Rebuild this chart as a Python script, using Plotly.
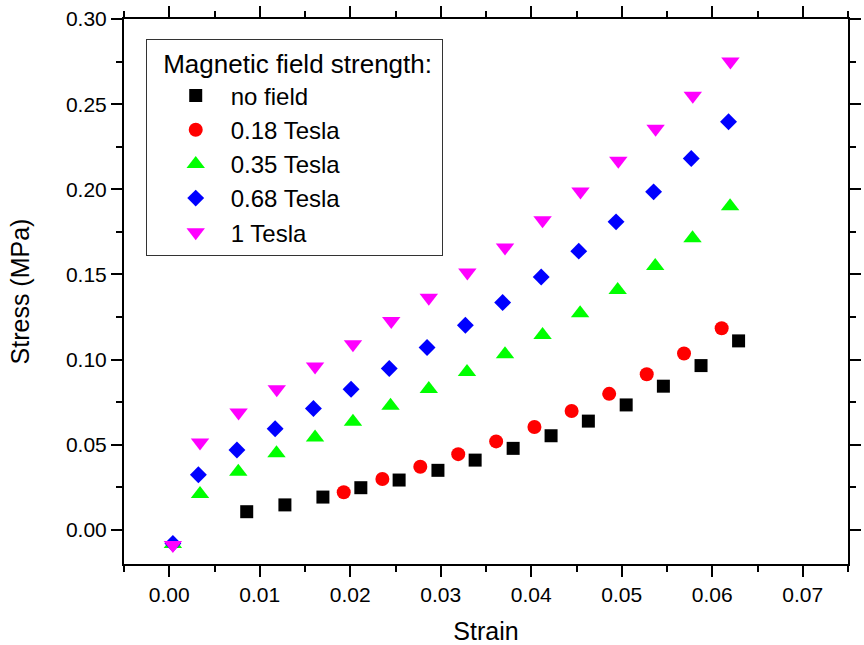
import plotly.graph_objects as go

# ---- data ----
series_names = ["no field", "0.18 Tesla", "0.35 Tesla", "0.68 Tesla", "1 Tesla"]

strain_none = [0.00856, 0.01278, 0.01698, 0.02117, 0.02540, 0.02969, 0.03380,
               0.03800, 0.04219, 0.04631, 0.05049, 0.05460, 0.05876, 0.06291]
stress_none = [0.0107, 0.0147, 0.0193, 0.0248, 0.0293, 0.0350, 0.0410,
               0.0479, 0.0553, 0.0639, 0.0734, 0.0844, 0.0965, 0.1110]

strain_018 = [0.01928, 0.02355, 0.02774, 0.03193, 0.03612, 0.04035, 0.04446,
              0.04861, 0.05276, 0.05688, 0.06104]
stress_018 = [0.0221, 0.0299, 0.0371, 0.0445, 0.0520, 0.0604, 0.0698,
              0.0799, 0.0914, 0.1036, 0.1184]

strain_035 = [0.0004, 0.00340, 0.00763, 0.01185, 0.01611, 0.02030, 0.02445, 0.02868,
              0.03290, 0.03710, 0.04125, 0.04540, 0.04955, 0.05370, 0.05782, 0.06197]
stress_035 = [-0.0082, 0.0211, 0.0342, 0.0451, 0.0543, 0.0635, 0.0729, 0.0827,
              0.0928, 0.1032, 0.1145, 0.1272, 0.1409, 0.1550, 0.1712, 0.1901]

strain_068 = [0.0004, 0.00322, 0.00748, 0.01170, 0.01593, 0.02009, 0.02431, 0.02849,
              0.03272, 0.03684, 0.04110, 0.04525, 0.04937, 0.05352, 0.05768, 0.06180]
stress_068 = [-0.0080, 0.0324, 0.0469, 0.0594, 0.0713, 0.0826, 0.0948, 0.1071,
              0.1202, 0.1335, 0.1485, 0.1637, 0.1809, 0.1985, 0.2181, 0.2397]

strain_1t = [0.0004, 0.00340, 0.00766, 0.01188, 0.01611, 0.02030, 0.02453, 0.02868,
             0.03294, 0.03710, 0.04125, 0.04544, 0.04962, 0.05374, 0.05785, 0.06201]
stress_1t = [-0.0088, 0.0514, 0.0690, 0.0826, 0.0960, 0.1090, 0.1227, 0.1364,
             0.1511, 0.1658, 0.1819, 0.1987, 0.2167, 0.2355, 0.2550, 0.2751]

x_ticks = [0.00, 0.01, 0.02, 0.03, 0.04, 0.05, 0.06, 0.07]
y_ticks = [0.00, 0.05, 0.10, 0.15, 0.20, 0.25, 0.30]

# ---- styles ----
FONT = "Liberation Sans, Arial, sans-serif"
styles = [
    dict(symbol="square", color="#000000", size=13),
    dict(symbol="circle", color="#ff0000", size=14),
    dict(symbol="triangle-up", color="#00ff00", size=16),
    dict(symbol="diamond", color="#0000ff", size=13),
    dict(symbol="triangle-down", color="#ff00ff", size=16),
]
xs = [strain_none, strain_018, strain_035, strain_068, strain_1t]
ys = [stress_none, stress_018, stress_035, stress_068, stress_1t]

fig = go.Figure()
for name, x, y, st in zip(series_names, xs, ys, styles):
    fig.add_trace(go.Scatter(
        x=x, y=y, mode="markers", name=name,
        marker=dict(symbol=st["symbol"], color=st["color"], size=st["size"],
                    line=dict(width=0)),
    ))

axis_common = dict(
    showline=True, linecolor="black", linewidth=2, mirror="ticks",
    ticks="outside", ticklen=11, tickwidth=2, tickcolor="black",
    showgrid=False, zeroline=False,
    tickfont=dict(family=FONT, size=21, color="black"),
)

fig.update_xaxes(
    **axis_common,
    range=[-0.005, 0.075], tickvals=x_ticks, tickformat=".2f",
    minor=dict(ticks="outside", ticklen=6, tickwidth=2, tickcolor="black",
               dtick=0.005, tick0=0, showgrid=False),
    title=dict(text="Strain", font=dict(family=FONT, size=25, color="black"),
               standoff=18),
)
fig.update_yaxes(
    **axis_common,
    range=[-0.02, 0.30], tickvals=y_ticks, tickformat=".2f",
    minor=dict(ticks="outside", ticklen=6, tickwidth=2, tickcolor="black",
               dtick=0.025, tick0=0, showgrid=False),
    title=dict(text="Stress (MPa)", font=dict(family=FONT, size=25, color="black"),
               standoff=29),
)

fig.update_layout(
    width=864, height=645,
    margin=dict(l=124, r=3, t=19, b=81),
    paper_bgcolor="white", plot_bgcolor="white",
    font=dict(family=FONT, color="black"),
    legend=dict(
        x=0.03, y=0.964, xanchor="left", yanchor="top",
        bgcolor="white", bordercolor="#333333", borderwidth=1,
        font=dict(family=FONT, size=24, color="black"),
        title=dict(text="\u00a0\u00a0Magnetic field strength:\u00a0",
                   font=dict(family=FONT, size=26, color="black"), side="top"),
        indentation=14,
        itemwidth=60,
        itemsizing="trace",
    ),
    showlegend=True,
)

fig.write_html("out.html")
